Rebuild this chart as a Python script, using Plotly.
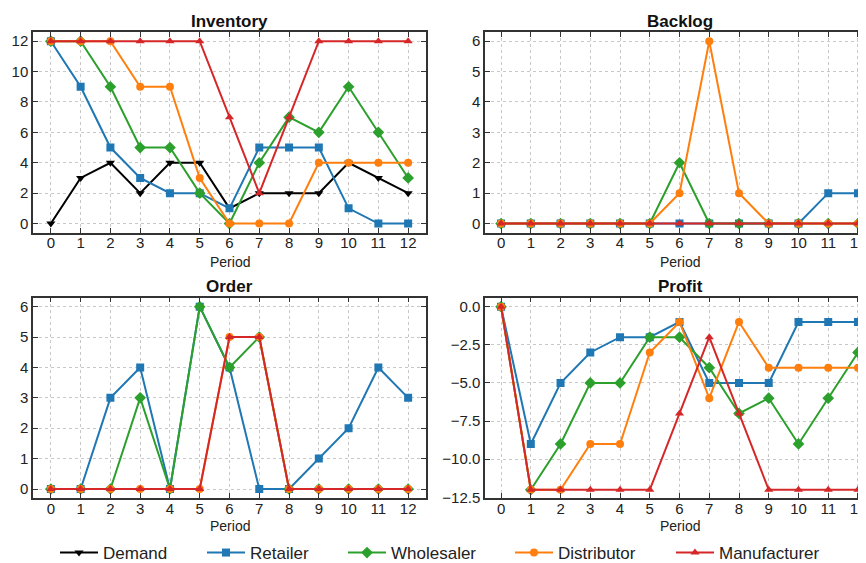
import plotly.graph_objects as go

periods = list(range(13))

# Inventory
inv_demand = [0, 3, 4, 2, 4, 4, 1, 2, 2, 2, 4, 3, 2]
inv_retailer = [12, 9, 5, 3, 2, 2, 1, 5, 5, 5, 1, 0, 0]
inv_wholesaler = [12, 12, 9, 5, 5, 2, 0, 4, 7, 6, 9, 6, 3]
inv_distributor = [12, 12, 12, 9, 9, 3, 0, 0, 0, 4, 4, 4, 4]
inv_manufacturer = [12, 12, 12, 12, 12, 12, 7, 2, 7, 12, 12, 12, 12]

# Backlog
bl_retailer = [0, 0, 0, 0, 0, 0, 0, 0, 0, 0, 0, 1, 1]
bl_wholesaler = [0, 0, 0, 0, 0, 0, 2, 0, 0, 0, 0, 0, 0]
bl_distributor = [0, 0, 0, 0, 0, 0, 1, 6, 1, 0, 0, 0, 0]
bl_manufacturer = [0, 0, 0, 0, 0, 0, 0, 0, 0, 0, 0, 0, 0]

# Order
ord_retailer = [0, 0, 3, 4, 0, 6, 4, 0, 0, 1, 2, 4, 3]
ord_wholesaler = [0, 0, 0, 3, 0, 6, 4, 5, 0, 0, 0, 0, 0]
ord_distributor = [0, 0, 0, 0, 0, 0, 5, 5, 0, 0, 0, 0, 0]
ord_manufacturer = [0, 0, 0, 0, 0, 0, 5, 5, 0, 0, 0, 0, 0]

# Profit
pr_retailer = [0, -9, -5, -3, -2, -2, -1, -5, -5, -5, -1, -1, -1]
pr_wholesaler = [0, -12, -9, -5, -5, -2, -2, -4, -7, -6, -9, -6, -3]
pr_distributor = [0, -12, -12, -9, -9, -3, -1, -6, -1, -4, -4, -4, -4]
pr_manufacturer = [0, -12, -12, -12, -12, -12, -7, -2, -7, -12, -12, -12, -12]

series_names = ["Demand", "Retailer", "Wholesaler", "Distributor", "Manufacturer"]
colors = {"Demand": "#000000", "Retailer": "#1f77b4", "Wholesaler": "#2ca02c",
          "Distributor": "#ff7f0e", "Manufacturer": "#d62728"}
symbols = {"Demand": "triangle-down", "Retailer": "square", "Wholesaler": "diamond",
           "Distributor": "circle", "Manufacturer": "triangle-up"}

panels = [
    ("Inventory", "x", "y", {"Demand": inv_demand, "Retailer": inv_retailer, "Wholesaler": inv_wholesaler,
                             "Distributor": inv_distributor, "Manufacturer": inv_manufacturer}),
    ("Backlog", "x2", "y2", {"Retailer": bl_retailer, "Wholesaler": bl_wholesaler,
                             "Distributor": bl_distributor, "Manufacturer": bl_manufacturer}),
    ("Order", "x3", "y3", {"Retailer": ord_retailer, "Wholesaler": ord_wholesaler,
                           "Distributor": ord_distributor, "Manufacturer": ord_manufacturer}),
    ("Profit", "x4", "y4", {"Retailer": pr_retailer, "Wholesaler": pr_wholesaler,
                            "Distributor": pr_distributor, "Manufacturer": pr_manufacturer}),
]

# page layout: 8px body margin; the captured page height maps slightly compressed
OFF = 8
SY = 571 / 563
W, H = 866 - OFF, 563
FONT = "Liberation Sans, Arial, sans-serif"
legend_ids = ["legend", "legend2", "legend3", "legend4", "legend5"]
legend_x_px = [60, 207, 348, 515, 676]

fig = go.Figure()
for pi, (title, xa, ya, data) in enumerate(panels):
    for si, name in enumerate(series_names):
        if name not in data:
            continue
        fig.add_trace(go.Scatter(
            x=periods, y=data[name], mode="lines+markers", name=name,
            xaxis=xa, yaxis=ya, showlegend=(pi == 0), legendgroup=name,
            legend=legend_ids[si],
            line=dict(color=colors[name], width=2),
            marker=dict(symbol=symbols[name], size=8 if name != "Wholesaler" else 9,
                        color=colors[name]),
        ))

def fx(s):
    return (s - OFF) / W

def fy(s):
    return (H - (s * SY - OFF)) / H

def px_x(a, b):
    return [max(fx(a), 0.0), min(fx(b), 1.0)]

def px_y(top, bottom):
    return [fy(bottom), min(fy(top), 1.0)]

dom = {
    "x": px_x(33, 426), "x2": px_x(485, 866), "x3": px_x(33, 426), "x4": px_x(485, 866),
    "y": px_y(32, 233), "y2": px_y(32, 233), "y3": px_y(298, 499), "y4": px_y(298, 499),
}

common = dict(showline=True, linecolor="#333333", linewidth=1.5, mirror="ticks",
              ticks="inside", ticklen=5, tickcolor="#333333", automargin=False,
              showgrid=True, gridcolor="#c8c8c8", griddash="dot", gridwidth=1,
              zeroline=False, tickfont=dict(size=15, color="#222222", family=FONT))

xranges = {"x": [-0.6, 12.6], "x2": [-0.54, 12.27], "x3": [-0.6, 12.6], "x4": [-0.54, 12.27]}
yranges = {"y": [-0.6, 12.6], "y2": [-0.3, 6.3], "y3": [-0.3, 6.3], "y4": [-12.55, 0.6]}
ydtick = {"y": 2, "y2": 1, "y3": 1, "y4": 2.5}
ytickformat = {"y": "d", "y2": "d", "y3": "d", "y4": ".1f"}

layout = dict(width=W, height=H, margin=dict(l=0, r=0, t=0, b=0),
              plot_bgcolor="white", paper_bgcolor="white",
              font=dict(family=FONT, size=14, color="#222222"))

for i, (xa, ya) in enumerate([("x", "y"), ("x2", "y2"), ("x3", "y3"), ("x4", "y4")]):
    xk = "xaxis" if i == 0 else f"xaxis{i+1}"
    yk = "yaxis" if i == 0 else f"yaxis{i+1}"
    layout[xk] = dict(common, domain=dom[xa], range=xranges[xa], tickmode="linear",
                      tick0=0, dtick=1, anchor=ya, ticklabelstandoff=-4,
                      ticklabeloverflow="allow")
    layout[yk] = dict(common, domain=dom[ya], range=yranges[ya], tickmode="linear",
                      tick0=0, dtick=ydtick[ya], tickformat=ytickformat[ya], anchor=xa,
                      mirror=("ticks" if i in (0, 2) else False))

for lid, lx in zip(legend_ids, legend_x_px):
    layout[lid] = dict(orientation="h", x=fx(lx - 5), xanchor="left", y=fy(554),
                       yanchor="middle", font=dict(size=17, family=FONT, color="#222222"),
                       itemwidth=38, bgcolor="rgba(0,0,0,0)", borderwidth=0)

annotations = []
title_pos = [("Inventory", 229.5, 21), ("Backlog", 680, 21), ("Order", 229.5, 287), ("Profit", 680, 287)]
for t, cx, cy in title_pos:
    annotations.append(dict(text=f"<b>{t}</b>", x=fx(cx), y=fy(cy), xref="paper", yref="paper",
                            showarrow=False, font=dict(size=17, family=FONT, color="#111111"),
                            xanchor="center", yanchor="middle"))
for cx, cy in [(229.5, 262), (680, 262), (229.5, 527), (680, 527)]:
    annotations.append(dict(text="Period", x=fx(cx), y=fy(cy), xref="paper", yref="paper",
                            showarrow=False, font=dict(size=14, family=FONT, color="#222222"),
                            xanchor="center", yanchor="middle"))
layout["annotations"] = annotations

fig.update_layout(**layout)
fig.write_html("out.html", config={"displayModeBar": False})
